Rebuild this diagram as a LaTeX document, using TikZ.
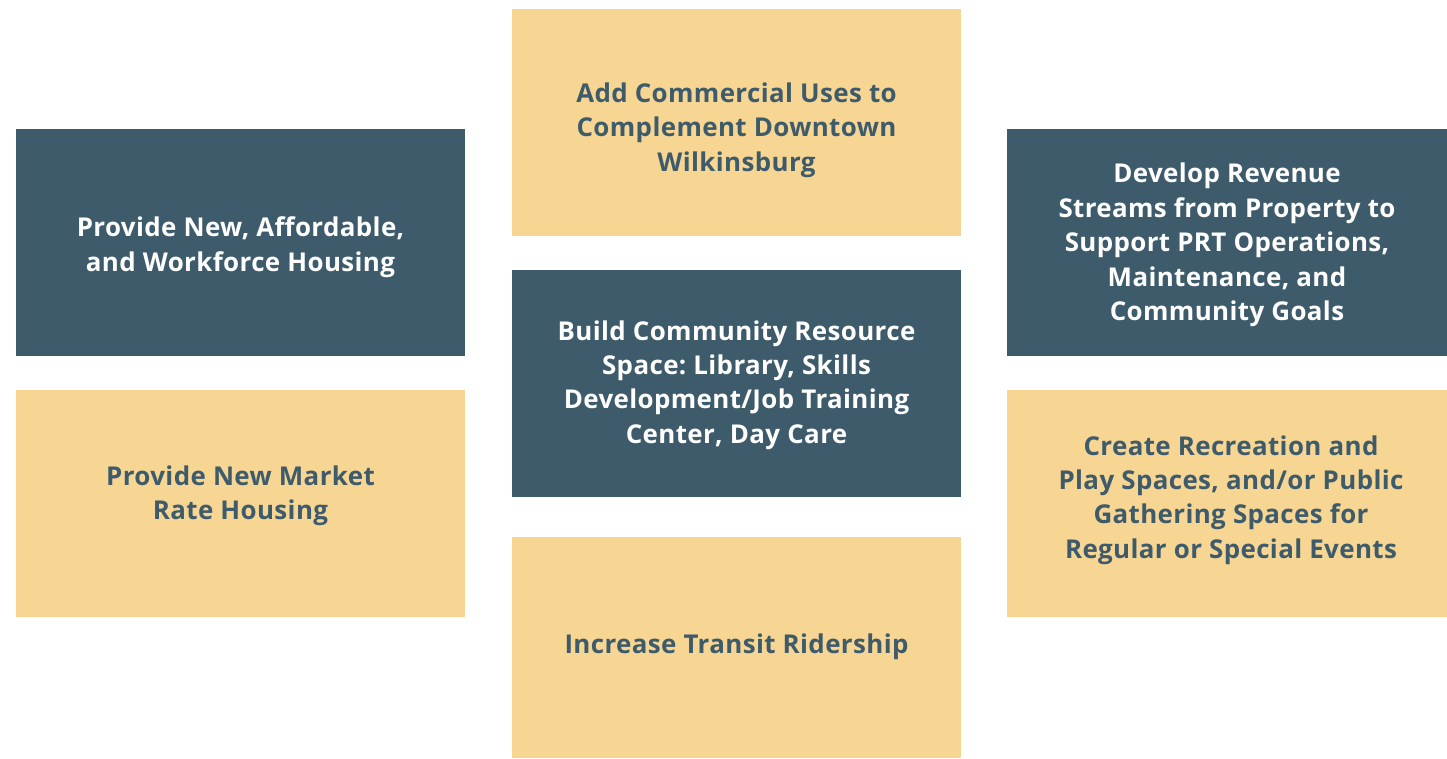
\documentclass[tikz,border=0pt]{standalone}
\usepackage{fontspec}
\setmainfont[LetterSpace=1.5]{Open Sans}
\definecolor{sand}{HTML}{F7D593}
\definecolor{slate}{HTML}{3E5B6C}
\begin{document}
\frenchspacing
\begin{tikzpicture}[x=1bp,y=-1bp,
  box/.style={inner sep=0pt,outer sep=0pt,draw=none,anchor=north west},
  sandbox/.style={box,fill=sand},
  slatebox/.style={box,fill=slate},
  lbl/.style={align=center,inner sep=0pt,font=\fontsize{26}{34.6}\selectfont\bfseries},
  darktxt/.style={lbl,text=slate},
  lighttxt/.style={lbl,text=white}]
\useasboundingbox (0,0) rectangle (1447,758);
\node[sandbox,minimum width=449bp,minimum height=227bp] (tc) at (512,9) {};
\node[slatebox,minimum width=449bp,minimum height=227bp] (lt) at (16,129) {};
\node[slatebox,minimum width=449bp,minimum height=227bp] (cc) at (512,270) {};
\node[slatebox,minimum width=440bp,minimum height=227bp] (rt) at (1007,129) {};
\node[sandbox,minimum width=449bp,minimum height=227bp] (lb) at (16,390) {};
\node[sandbox,minimum width=440bp,minimum height=227bp] (rb) at (1007,390) {};
\node[sandbox,minimum width=449bp,minimum height=221bp] (bc) at (512,537) {};

\node[darktxt] (tct) at (736.5,130) {Add Commercial Uses to\\Complement Downtown\\Wilkinsburg};
\node[lighttxt] (ltt) at (240.5,247) {Provide New, Affordable,\\and Workforce Housing};
\node[lighttxt] (cct) at (736.5,385) {Build Community Resource\\Space: Library, Skills\\Development/Job Training\\Center, Day Care};
\node[lighttxt] (rtt) at (1227,245) {Develop Revenue\\Streams from Property to\\Support PRT Operations,\\Maintenance, and\\Community Goals};
\node[darktxt] (lbt) at (240.5,496) {Provide New Market\\Rate Housing};
\node[darktxt] (rbt) at (1231,500) {Create Recreation and\\Play Spaces, and/or Public\\Gathering Spaces for\\Regular or Special Events};
\node[darktxt] (bct) at (736.5,647) {Increase Transit Ridership};
\end{tikzpicture}
\end{document}
